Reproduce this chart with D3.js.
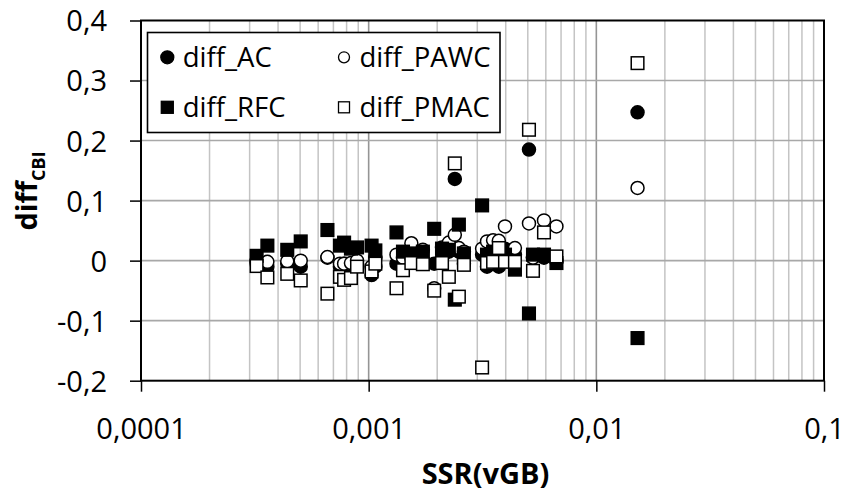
<!DOCTYPE html>
<html>
<head>
<meta charset="utf-8">
<script src="https://cdn.jsdelivr.net/npm/d3@7"></script>
<style>
  html, body { margin: 0; padding: 0; background: #fff; }
  svg { display: block; }
  text { font-family: "Open Sans", "Liberation Sans", sans-serif; fill: #000; }
</style>
</head>
<body>
<svg id="chart" width="848" height="502"></svg>
<script>
// ---- data ----
const ssr = [0.000322, 0.000359, 0.000439, 0.000503, 0.000659, 0.000748, 0.00078, 0.000836,
  0.000889, 0.00103, 0.00107, 0.001325, 0.001415, 0.00154, 0.00173, 0.00194, 0.0021,
  0.00225, 0.00239, 0.00249, 0.00262, 0.00315, 0.00331, 0.00352, 0.00373, 0.00397,
  0.00439, 0.00506, 0.00527, 0.00589, 0.00668, 0.01517];
const diffAC = [-0.005, -0.01, -0.005, -0.01, 0.005, -0.01, -0.005, -0.012,
  -0.005, -0.024, -0.01, -0.005, -0.01, 0.01, -0.004, -0.005, 0.005,
  0.015, 0.136, 0.015, -0.005, 0.01, -0.01, 0.01, -0.01, 0.02,
  0.01, 0.185, 0.005, 0.005, 0.0, 0.247];
const diffPAWC = [0.0, -0.002, -0.001, 0.0, 0.006, -0.005, -0.005, -0.004,
  0.0, -0.01, 0.005, 0.01, 0.005, 0.029, 0.018, -0.046, 0.022,
  0.03, 0.043, 0.021, 0.015, 0.02, 0.032, 0.034, 0.033, 0.057,
  0.021, 0.062, 0.005, 0.067, 0.057, 0.121];
const diffRFC = [0.008, 0.025, 0.018, 0.032, 0.051, 0.025, 0.03, 0.02,
  0.022, 0.025, 0.017, 0.047, 0.015, 0.012, 0.015, 0.053, 0.02,
  0.018, -0.065, 0.06, 0.012, 0.092, 0.01, 0.015, 0.005, 0.01,
  -0.015, -0.088, 0.01, 0.01, -0.004, -0.129];
const diffPMAC = [-0.009, -0.028, -0.022, -0.033, -0.055, -0.027, -0.032, -0.029,
  -0.01, -0.018, -0.005, -0.046, -0.016, -0.004, -0.006, -0.05, -0.004,
  -0.027, 0.162, -0.06, -0.007, -0.178, -0.004, -0.002, 0.021, -0.002,
  -0.002, 0.218, -0.017, 0.047, 0.007, 0.329];
const xTickValues = [0.0001, 0.001, 0.01, 0.1];
const xTickLabels = ["0,0001", "0,001", "0,01", "0,1"];
const yTickValues = [-0.2, -0.1, 0, 0.1, 0.2, 0.3, 0.4];
const yTickLabels = ["-0,2", "-0,1", "0", "0,1", "0,2", "0,3", "0,4"];
const seriesNames = ["diff_AC", "diff_PAWC", "diff_RFC", "diff_PMAC"];

// ---- layout ----
const L = 141, R = 824, T = 20.5, B = 380.7;
const svg = d3.select("#chart");
const x = d3.scaleLog().domain([0.0001, 0.1]).range([L, R]);
const y = d3.scaleLinear().domain([-0.2, 0.4]).range([B, T]);

// grid
const minor = [];
[0.0001, 0.001, 0.01].forEach(d => { for (let k = 2; k <= 9; k++) minor.push(d * k); });
const g = svg.append("g");
g.selectAll("line.vmin").data(minor).join("line")
  .attr("x1", d => x(d)).attr("x2", d => x(d)).attr("y1", T).attr("y2", B)
  .attr("stroke", "#c4c4c4").attr("stroke-width", 1.5);
g.selectAll("line.vmaj").data([0.001, 0.01]).join("line")
  .attr("x1", d => x(d)).attr("x2", d => x(d)).attr("y1", T).attr("y2", B)
  .attr("stroke", "#959595").attr("stroke-width", 1.6);
g.selectAll("line.h").data(yTickValues.slice(1, -1)).join("line")
  .attr("x1", L).attr("x2", R).attr("y1", d => y(d)).attr("y2", d => y(d))
  .attr("stroke", "#a8a8a8").attr("stroke-width", 1.6);

// axes
const yAxis = d3.axisLeft(y).tickValues(yTickValues).tickSize(11)
  .tickFormat((d, i) => yTickLabels[i]);
const ya = svg.append("g").attr("transform", `translate(${L},0)`).call(yAxis);
ya.select(".domain").remove();
ya.selectAll(".tick line").attr("stroke", "#000").attr("stroke-width", 1.5);
ya.selectAll(".tick text").attr("x", -34).attr("dy", "0.36em")
  .style("font-size", "29px").style("font-family", "'Open Sans', sans-serif").attr("fill", "#000");

const xAxis = d3.axisBottom(x).tickValues(xTickValues).tickSize(11)
  .tickFormat((d, i) => xTickLabels[i]);
const xa = svg.append("g").attr("transform", `translate(0,${B})`).call(xAxis);
xa.select(".domain").remove();
xa.selectAll(".tick line").attr("stroke", "#000").attr("stroke-width", 1.5);
xa.selectAll(".tick text").attr("y", 58).attr("dy", 0)
  .style("font-size", "29px").style("font-family", "'Open Sans', sans-serif").attr("fill", "#000");

// plot border
svg.append("rect").attr("x", L).attr("y", T).attr("width", R - L).attr("height", B - T)
  .attr("fill", "none").attr("stroke", "#000").attr("stroke-width", 2);

// markers
const data = ssr.map((s, i) => ({ s, ac: diffAC[i], pawc: diffPAWC[i], rfc: diffRFC[i], pmac: diffPMAC[i] }));
const pts = svg.append("g");
const circ = (key, fill) => pts.append("g").selectAll("circle").data(data).join("circle")
  .attr("cx", d => x(d.s)).attr("cy", d => y(d[key])).attr("r", 6.5)
  .attr("fill", fill).attr("stroke", "#000").attr("stroke-width", 1.5);
const sq = (key, fill) => pts.append("g").selectAll("rect").data(data).join("rect")
  .attr("x", d => x(d.s) - 6.3).attr("y", d => y(d[key]) - 6.3).attr("width", 12.6).attr("height", 12.6)
  .attr("fill", fill).attr("stroke", "#000").attr("stroke-width", 1.5);
circ("ac", "#000");
circ("pawc", "#fff");
sq("rfc", "#000");
sq("pmac", "#fff");

// legend
const lg = svg.append("g");
lg.append("rect").attr("x", 147.5).attr("y", 32.5).attr("width", 352.5).attr("height", 100)
  .attr("fill", "#fff").attr("stroke", "#000").attr("stroke-width", 1.6);
const legendItems = [
  { name: seriesNames[0], shape: "circle", fill: "#000", x: 167.3, y: 57.3 },
  { name: seriesNames[1], shape: "circle", fill: "#fff", x: 344, y: 57.3 },
  { name: seriesNames[2], shape: "square", fill: "#000", x: 167.3, y: 107.3 },
  { name: seriesNames[3], shape: "square", fill: "#fff", x: 344, y: 107.3 }
];
legendItems.forEach(it => {
  if (it.shape === "circle") {
    lg.append("circle").attr("cx", it.x).attr("cy", it.y).attr("r", it.fill === "#000" ? 6.5 : 5.5)
      .attr("fill", it.fill).attr("stroke", "#000").attr("stroke-width", 1.3);
  } else {
    const s = it.fill === "#000" ? 12 : 11;
    lg.append("rect").attr("x", it.x - s / 2).attr("y", it.y - s / 2).attr("width", s).attr("height", s)
      .attr("fill", it.fill).attr("stroke", "#000").attr("stroke-width", 1.3);
  }
  lg.append("text").attr("x", it.x + 15.5).attr("y", it.y + 9.5)
    .style("font-size", "27.5px").text(it.name);
});

// axis titles
svg.append("text").attr("x", (L + R) / 2 + 3).attr("y", 484).attr("text-anchor", "middle")
  .style("font-size", "29px").style("font-weight", "bold").text("SSR(vGB)");
const yt = svg.append("text").attr("transform", "translate(37,191) rotate(-90)")
  .attr("text-anchor", "middle").style("font-weight", "bold");
yt.append("tspan").style("font-size", "29px").text("diff");
yt.append("tspan").attr("dy", 8).style("font-size", "18px").text("CBI");
</script>
</body>
</html>
